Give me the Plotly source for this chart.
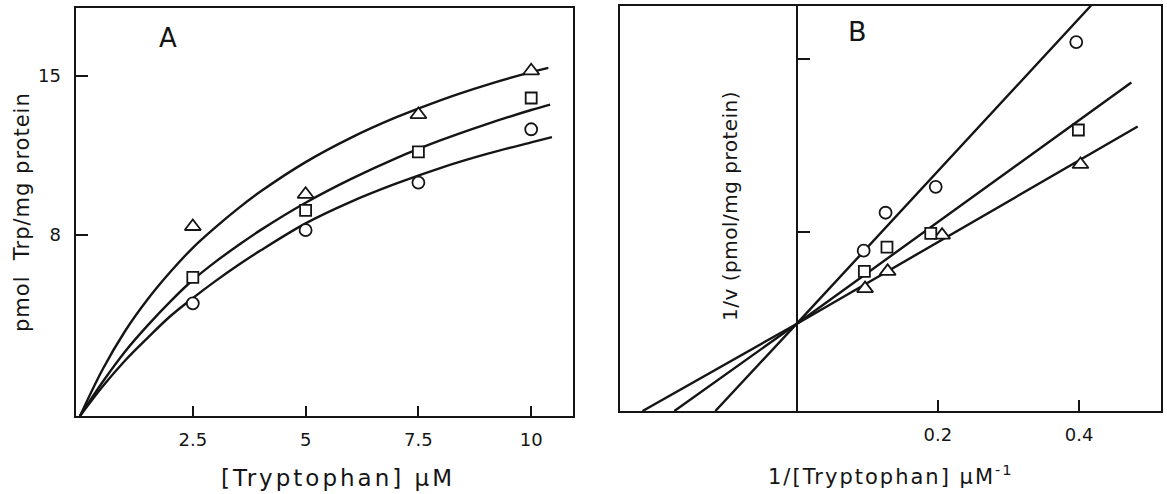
import plotly.graph_objects as go

# ---------------- Panel A data: v vs [Trp] ----------------
trp_uM = [2.5, 5, 7.5, 10]
v_triangle = [8.36, 9.78, 13.3, 15.23]
v_square = [6.12, 9.07, 11.65, 14.03]
v_circle = [4.97, 8.2, 10.3, 12.65]

# fitted curves
curve_x = [0, 0.5, 1, 1.5, 2, 2.5, 3, 3.5, 4, 5, 6, 7, 8, 9, 10]
curve_tri_y = [0, 2.05, 3.75, 5.15, 6.35, 7.42, 8.32, 9.15, 9.9, 11.2, 12.27, 13.17, 13.94, 14.6, 15.17]
curve_sq_y = [0, 1.5, 2.85, 4.0, 5.05, 6.0, 6.8, 7.52, 8.2, 9.41, 10.45, 11.37, 12.17, 12.87, 13.5]
curve_ci_y = [0, 1.3, 2.45, 3.45, 4.4, 5.2, 5.95, 6.65, 7.3, 8.5, 9.45, 10.25, 10.95, 11.55, 12.07]
curve_end_x = [10.38, 10.42, 10.46]
curve_end_y = [15.36, 13.74, 12.3]

# ---------------- Panel B data: Lineweaver-Burk ----------------
inv_trp_tri = [0.097, 0.129, 0.206, 0.402]
inv_v_tri = [0.067, 0.077, 0.098, 0.139]
inv_trp_sq = [0.096, 0.128, 0.190, 0.399]
inv_v_sq = [0.077, 0.091, 0.099, 0.159]
inv_trp_ci = [0.095, 0.126, 0.197, 0.396]
inv_v_ci = [0.089, 0.111, 0.126, 0.210]

line_ci_x = [-0.115, 0, 0.417]
line_ci_y = [-0.004, 0.0465, 0.2312]
line_sq_x = [-0.173, 0, 0.474]
line_sq_y = [-0.004, 0.0465, 0.1865]
line_tri_x = [-0.218, 0, 0.483]
line_tri_y = [-0.004, 0.0465, 0.161]

A_xticks = [2.5, 5, 7.5, 10]
A_xticklabels = ["2.5", "5", "7.5", "10"]
A_yticks = [8, 15]
B_xticks = [0.2, 0.4]
B_xticklabels = ["0.2", "0.4"]
B_yticks = [0.1, 0.2]

INK = "#151515"
FONT = "DejaVu Sans"

W, H = 1167, 494


def fx(px):
    return px / W


def fy(py):
    return 1 - py / H


fig = go.Figure()


def curve(x, y, xa, ya, shape="spline"):
    fig.add_trace(go.Scatter(x=x, y=y, mode="lines", xaxis=xa, yaxis=ya,
                             line=dict(color=INK, width=2.4, shape=shape, smoothing=1.0),
                             showlegend=False, hoverinfo="skip"))


def pts(x, y, xa, ya, symbol, size):
    fig.add_trace(go.Scatter(x=x, y=y, mode="markers", xaxis=xa, yaxis=ya,
                             marker=dict(symbol=symbol, size=size, color="white",
                                         line=dict(color=INK, width=1.8)),
                             showlegend=False, hoverinfo="skip"))


# Panel A
for ys, i in ((curve_tri_y, 0), (curve_sq_y, 1), (curve_ci_y, 2)):
    curve(curve_x + [curve_end_x[i]], ys + [curve_end_y[i]], "x", "y")
pts(trp_uM, v_triangle, "x", "y", "triangle-up", 14)
pts(trp_uM, v_square, "x", "y", "square", 11)
pts(trp_uM, v_circle, "x", "y", "circle", 12)

# Panel B
curve(line_ci_x, line_ci_y, "x2", "y2", shape="linear")
curve(line_sq_x, line_sq_y, "x2", "y2", shape="linear")
curve(line_tri_x, line_tri_y, "x2", "y2", shape="linear")
pts(inv_trp_tri, inv_v_tri, "x2", "y2", "triangle-up", 14)
pts(inv_trp_sq, inv_v_sq, "x2", "y2", "square", 11)
pts(inv_trp_ci, inv_v_ci, "x2", "y2", "circle", 12)
# invisible trace so the inner y axis (at x = 0) is drawn
fig.add_trace(go.Scatter(x=inv_trp_ci, y=inv_v_ci, mode="markers", xaxis="x2", yaxis="y3",
                         marker=dict(opacity=0), showlegend=False, hoverinfo="skip"))

A_x = [fx(75.5), fx(572.7)]
A_y = [fy(416), fy(8)]
B_x = [fx(620), fx(1161)]
B_y = [fy(411), fy(5.5)]
B_xrange = [-0.25, 0.516]
B_yrange = [-0.004, 0.2312]
y3_pos = B_x[0] + (0 - B_xrange[0]) / (B_xrange[1] - B_xrange[0]) * (B_x[1] - B_x[0])

axis_common = dict(showline=True, linecolor=INK, linewidth=2, mirror=True, showgrid=False,
                   zeroline=False, tickcolor=INK, tickwidth=1.6, automargin=False,
                   tickfont=dict(family=FONT, size=18, color=INK))


def ann(text, px, py, size, angle=0):
    return dict(text=text, x=fx(px), y=fy(py), xref="paper", yref="paper",
                xanchor="center", yanchor="middle", showarrow=False, textangle=angle,
                font=dict(family=FONT, size=size, color=INK))


fig.update_layout(
    width=W, height=H,
    margin=dict(l=0, r=0, t=0, b=0),
    paper_bgcolor="white", plot_bgcolor="white",
    xaxis=dict(domain=A_x, range=[-0.1, 10.92], anchor="y", tickvals=A_xticks,
               ticktext=A_xticklabels, ticks="inside", ticklen=10, ticklabelstandoff=6,
               **axis_common),
    yaxis=dict(domain=A_y, range=[0, 18], anchor="x", tickvals=A_yticks, ticks="inside",
               ticklen=12, ticklabelstandoff=9, **axis_common),
    xaxis2=dict(domain=B_x, range=B_xrange, anchor="y2", tickvals=B_xticks,
                ticktext=B_xticklabels, ticks="inside", ticklen=11, ticklabelstandoff=6,
                **axis_common),
    yaxis2=dict(domain=B_y, range=B_yrange, anchor="x2", tickvals=[], ticks="",
                showticklabels=False, **axis_common),
    yaxis3=dict(overlaying="y2", anchor="free", position=y3_pos, side="right",
                range=B_yrange, tickvals=B_yticks, ticks="outside", ticklen=13,
                tickwidth=1.6, tickcolor=INK, showticklabels=False, showline=True,
                linecolor=INK, linewidth=1.6, showgrid=False, zeroline=False,
                automargin=False),
    annotations=[
        ann("A", 168, 38, 26),
        ann("B", 857, 32, 27),
        ann('<span style="letter-spacing:3px">[Tryptophan] µM</span>', 338, 478, 23),
        ann('<span style="letter-spacing:2px">1/[Tryptophan] µM<sup>-1</sup></span>', 891, 475, 21),
        ann('<span style="letter-spacing:1px">pmol  Trp/mg protein</span>', 22, 212, 21, -90),
        ann('<span style="letter-spacing:0.5px">1/v (pmol/mg protein)</span>', 730, 206, 20, -90),
    ],
)

fig.write_html("out.html",
               config={"displayModeBar": False},
               post_script="document.body.style.margin='0px';"
                           "document.body.style.overflow='hidden';")
